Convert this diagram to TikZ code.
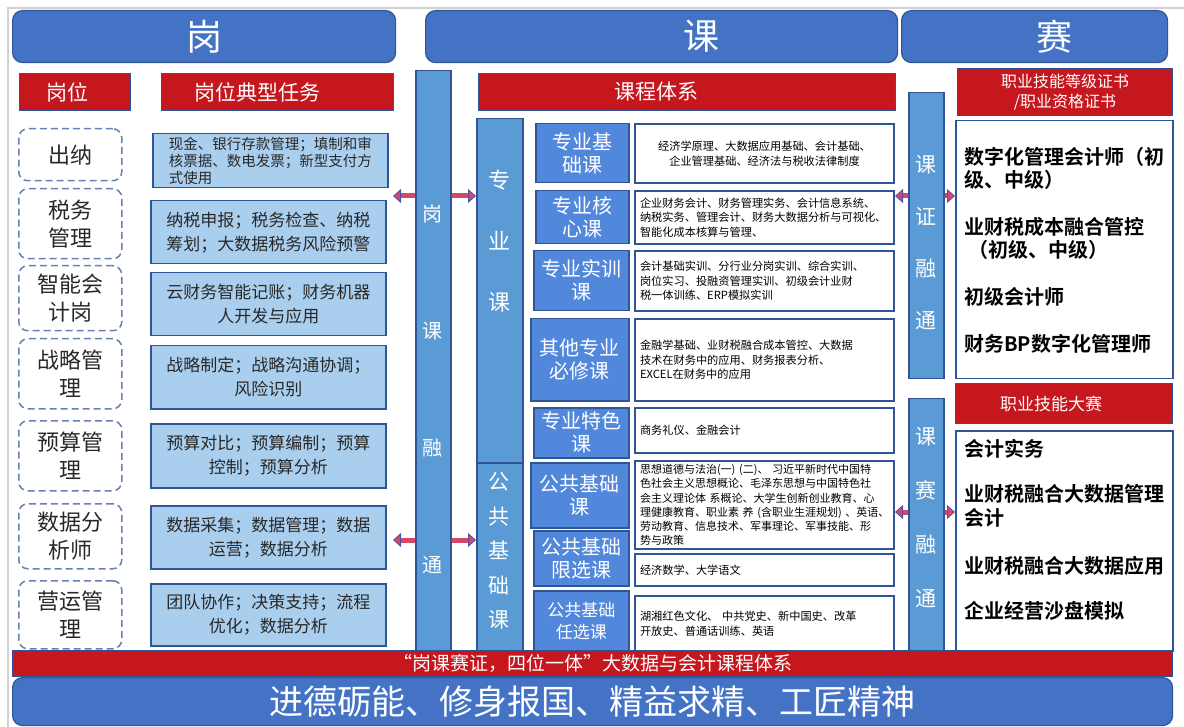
\documentclass[tikz,border=0pt]{standalone}
\usepackage{fontspec}
\setmainfont{Noto Sans CJK SC}[BoldFont={Noto Sans CJK SC Bold}]
\usetikzlibrary{arrows.meta}
\definecolor{hdrblue}{RGB}{68,114,196}
\definecolor{labred}{RGB}{198,22,30}
\definecolor{barblue}{RGB}{91,155,213}
\definecolor{cblue}{RGB}{82,136,220}
\definecolor{taskblue}{RGB}{170,207,238}
\definecolor{lineblue}{RGB}{47,85,151}
\definecolor{dashblue}{RGB}{105,128,180}
\definecolor{arrowred}{RGB}{214,72,104}
\definecolor{arrowblue}{RGB}{78,84,170}
\definecolor{txtgray}{RGB}{40,40,40}
\tikzset{
  every node/.style={anchor=north west},
  hdr/.style={draw=lineblue, line width=1.2pt, fill=hdrblue, rounded corners=10pt, text=white, font=\fontsize{36}{40}\selectfont},
  redlab/.style={draw=lineblue, line width=1pt, fill=labred, text=white, align=center, inner sep=1pt, font=\fontsize{21}{24}\selectfont},
  post/.style={draw=dashblue, line width=1.5pt, dash pattern=on 7pt off 4pt, rounded corners=9pt, minimum width=103pt, align=center, text=txtgray, inner sep=1pt, font=\fontsize{22}{28}\selectfont},
  task/.style={draw=lineblue, line width=1.5pt, fill=taskblue, minimum width=235pt, align=center, text=txtgray, inner sep=2pt, font=\fontsize{17}{24}\selectfont},
  vbar/.style={draw=lineblue, line width=1.5pt, fill=barblue},
  vtext/.style={anchor=center, text=white, align=center, inner sep=0pt},
  cname/.style={draw=lineblue, line width=1.5pt, fill=cblue, text=white, align=center, inner sep=1pt, font=\fontsize{20}{23}\selectfont},
  desc/.style={draw=lineblue, line width=2pt, fill=white, minimum width=259pt, text width=249pt, inner xsep=5pt, align=left, text=black, font=\fontsize{11.2}{14.5}\selectfont},
  card/.style={draw=lineblue, line width=1.5pt, fill=white, minimum width=217pt},
  cardtext/.style={align=left, inner sep=0pt, text=black, font=\fontsize{20}{23}\selectfont\bfseries},
  linkarrow/.style={line width=5pt, arrowred, -{Triangle[length=8pt, width=14pt, line width=0.8pt, color=arrowblue, fill=arrowred]}}
}
\begin{document}
\begin{tikzpicture}[x=1pt,y=-1pt]
\useasboundingbox (0,0) rectangle (1184,727);
\draw[gray!35, line width=1.5pt] (8,727) -- (8,8) -- (1184,8);

% top bars
\node[hdr, minimum width=383pt, minimum height=52pt] (hg) at (12,10) {岗};
\node[hdr, minimum width=472pt, minimum height=52pt] (hk) at (425,10) {\hspace*{80pt}课};
\node[hdr, minimum width=266pt, minimum height=52pt] (hs) at (901,10) {\hspace*{40pt}赛};

% red titles
\node[redlab, minimum width=111pt, minimum height=37pt] (lgw) at (19,73) {\hspace*{-16pt}岗位};
\node[redlab, minimum width=232pt, minimum height=37pt] (lrw) at (161,73) {\hspace*{-40pt}岗位典型任务};
\node[redlab, minimum width=417pt, minimum height=37pt] (lkc) at (478,73) {\hspace*{-62pt}课程体系};
\node[redlab, minimum width=215pt, minimum height=47pt, font=\fontsize{16}{20}\selectfont] (lzs) at (957,68) {职业技能等级证书\\/职业资格证书};
\node[redlab, minimum width=217pt, minimum height=40pt, font=\fontsize{17}{20}\selectfont] (lds) at (955,383) {\hspace*{-26pt}职业技能大赛};

% posts
\node[post, minimum height=52pt] (g1) at (18,128) {出纳};
\node[post, minimum height=70pt] (g2) at (18,188) {税务\\管理};
\node[post, minimum height=65pt] (g3) at (18,265) {智能会\\计岗};
\node[post, minimum height=70pt] (g4) at (18,338) {战略管\\理};
\node[post, minimum height=70pt] (g5) at (18,420) {预算管\\理};
\node[post, minimum height=65pt] (g6) at (18,503) {数据分\\析师};
\node[post, minimum height=68pt] (g7) at (18,580) {营运管\\理};

% typical tasks
\node[task, minimum height=54pt, align=left, font=\fontsize{14.5}{17}\selectfont] (t1) at (152,133) {现金、银行存款管理；填制和审\\核票据、数电发票；新型支付方\\式使用};
\node[task, minimum height=63pt] (t2) at (150,200) {纳税申报；税务检查、纳税\\筹划；大数据税务风险预警};
\node[task, minimum height=63pt] (t3) at (150,272) {云财务智能记账；财务机器\\人开发与应用};
\node[task, minimum height=63pt] (t4) at (150,345) {战略制定；战略沟通协调；\\风险识别};
\node[task, minimum height=64pt] (t5) at (150,423) {预算对比；预算编制；预算\\控制；预算分析};
\node[task, minimum height=63pt] (t6) at (150,505) {数据采集；数据管理；数据\\运营；数据分析};
\node[task, minimum height=62pt] (t7) at (150,583) {团队协作；决策支持；流程\\优化；数据分析};

% vertical bars
\node[vbar, minimum width=35pt, minimum height=580pt] (gkbar) at (415,70) {};
\node[vtext, font=\fontsize{20}{117}\selectfont] (gkt) at (432.5,389) {岗\\课\\融\\通};
\node[vbar, minimum width=46pt, minimum height=344pt] (zyk) at (476,118) {};
\node[vtext, font=\fontsize{22}{61}\selectfont] (zykt) at (499,241) {专\\业\\课};
\node[vbar, minimum width=46pt, minimum height=188pt] (ggk) at (476,462) {};
\node[vtext, font=\fontsize{21}{34.5}\selectfont] (ggkt) at (499,551) {公\\共\\基\\础\\课};
\node[vbar, minimum width=35pt, minimum height=286pt] (kzbar) at (908,92) {};
\node[vtext, font=\fontsize{21}{52}\selectfont] (kzt) at (925.5,243) {课\\证\\融\\通};
\node[vbar, minimum width=35pt, minimum height=252pt] (ksbar) at (908,398) {};
\node[vtext, font=\fontsize{21}{54}\selectfont] (kst) at (925.5,518) {课\\赛\\融\\通};

% course groups
\node[cname, minimum width=93pt, minimum height=59pt] (c1) at (535,123) {专业基\\础课};
\node[cname, minimum width=93pt, minimum height=53pt] (c2) at (535,190) {专业核\\心课};
\node[cname, minimum width=95pt, minimum height=60pt] (c3) at (533,250) {专业实训\\课};
\node[cname, minimum width=98pt, minimum height=82pt] (c4) at (530,318) {其他专业\\必修课};
\node[cname, minimum width=95pt, minimum height=50pt] (c5) at (533,407) {专业特色\\课};
\node[cname, minimum width=98pt, minimum height=65pt] (c6) at (530,462) {公共基础\\课};
\node[cname, minimum width=95pt, minimum height=55pt] (c7) at (533,530) {公共基础\\限选课};
\node[cname, minimum width=95pt, minimum height=60pt, font=\fontsize{17}{22}\selectfont] (c8) at (533,590) {公共基础\\任选课};

% course lists
\node[desc, minimum height=59pt, align=center] (d1) at (634,123) {经济学原理、大数据应用基础、会计基础、\\企业管理基础、经济法与税收法律制度};
\node[desc, minimum height=53pt] (d2) at (634,190) {企业财务会计、财务管理实务、会计信息系统、\\纳税实务、管理会计、财务大数据分析与可视化、\\智能化成本核算与管理、};
\node[desc, minimum height=60pt] (d3) at (634,250) {会计基础实训、分行业分岗实训、综合实训、\\岗位实习、投融资管理实训、初级会计业财\\税一体训练、ERP模拟实训};
\node[desc, minimum height=82pt] (d4) at (634,318) {金融学基础、业财税融合成本管控、大数据\\技术在财务中的应用、财务报表分析、\\EXCEL在财务中的应用};
\node[desc, minimum height=45pt] (d5) at (634,407) {商务礼仪、金融会计};
\node[desc, minimum height=85pt, font=\fontsize{11}{14.2}\selectfont] (d6) at (634,460) {思想道德与法治(一)~(二)、~习近平新时代中国特\\色社会主义思想概论、毛泽东思想与中国特色社\\会主义理论体~系概论、大学生创新创业教育、心\\理健康教育、职业素~养~(含职业生涯规划)~、英语、\\劳动教育、信息技术、军事理论、军事技能、形\\势与政策};
\node[desc, minimum height=32pt] (d7) at (634,553) {经济数学、大学语文};
\node[desc, minimum height=55pt] (d8) at (634,595) {湖湘红色文化、~中共党史、新中国史、改革\\开放史、普通话训练、英语};

% certificates and contests
\node[card, minimum height=258pt] (zs) at (955,120) {};
\node[cardtext] (zst) at (964,147) {数字化管理会计师（初\\级、中级）\\[24pt]业财税成本融合管控\\\ （初级、中级）\\[24pt]初级会计师\\[24pt]财务BP数字化管理师};
\node[card, minimum height=220pt] (ss) at (955,430) {};
\node[cardtext, font=\fontsize{20}{24}\selectfont\bfseries] (sst) at (964,439) {会计实务\\[21pt]业财税融合大数据管理\\会计\\[24pt]业财税融合大数据应用\\[21pt]企业经营沙盘模拟};

% arrows
\coordinate (a1) at (393,196);
\coordinate (a2) at (393,540);
\coordinate (a3) at (925,196);
\coordinate (a4) at (925,512);
\draw[linkarrow] (gkbar.west |- a1) -- (a1);
\draw[linkarrow] (gkbar.east |- a1) -- (zyk.west |- a1);
\draw[linkarrow] (gkbar.west |- a2) -- (a2);
\draw[linkarrow] (gkbar.east |- a2) -- (ggk.west |- a2);
\draw[linkarrow] (kzbar.west |- a3) -- (d2.east |- a3);
\draw[linkarrow] (kzbar.east |- a3) -- (zs.west |- a3);
\draw[linkarrow] (ksbar.west |- a4) -- (d6.east |- a4);
\draw[linkarrow] (ksbar.east |- a4) -- (ss.west |- a4);

% bottom
\node[redlab, minimum width=1160pt, minimum height=26pt, font=\fontsize{19}{21}\selectfont] (strip) at (12,650) {“岗课赛证，四位一体”大数据与会计课程体系};
\node[hdr, minimum width=1160pt, minimum height=48pt, font=\fontsize{34}{38}\selectfont] (base) at (12,677) {进德砺能、修身报国、精益求精、工匠精神};
\end{tikzpicture}
\end{document}
